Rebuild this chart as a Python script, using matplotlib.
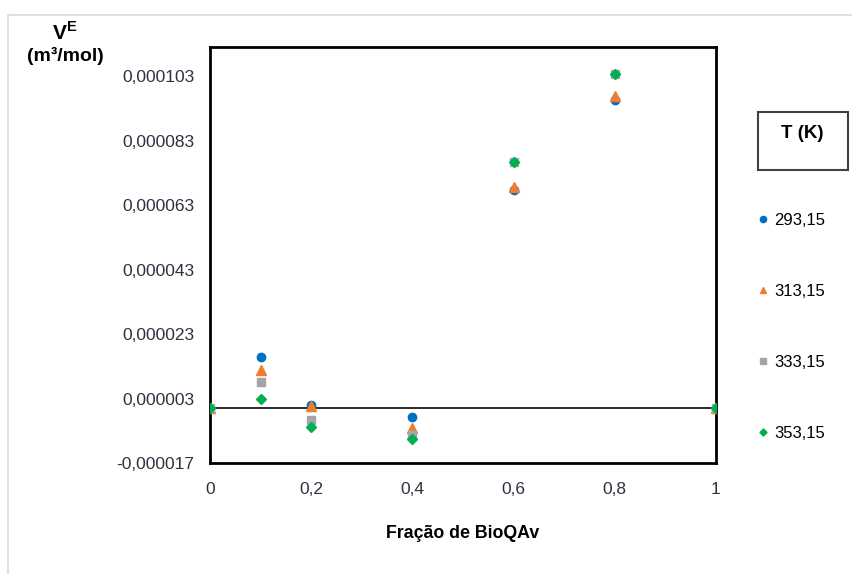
import matplotlib
matplotlib.use('Agg')
import matplotlib.pyplot as plt
from matplotlib.patches import Rectangle
from matplotlib.lines import Line2D
from matplotlib.ticker import FuncFormatter

plt.rcParams['font.family'] = ['Liberation Sans', 'DejaVu Sans']

# fraction of BioQAv
fracao = [0, 0.1, 0.2, 0.4, 0.6, 0.8, 1]
# excess molar volume (m3/mol) per temperature
ve_293 = [0, 0.0000158, 0.0000011, -0.0000028, 0.0000677, 0.0000955, 0]
ve_313 = [0, 0.0000117, 0.0000008, -0.0000060, 0.0000687, 0.0000969, 0]
ve_333 = [0, 0.0000080, -0.0000038, -0.0000082, 0.0000762, 0.0001035, 0]
ve_353 = [0, 0.0000030, -0.0000059, -0.0000097, 0.0000762, 0.0001035, 0]
temps = ['293,15', '313,15', '333,15', '353,15']
yticks = [-0.000017, 0.000003, 0.000023, 0.000043, 0.000063, 0.000083, 0.000103]
xticks = [0, 0.2, 0.4, 0.6, 0.8, 1]

W, H = 853, 574
fig = plt.figure(figsize=(W / 100, H / 100), dpi=100)
# light frame on the left and top only
fig.lines.append(Line2D([8/W, 8/W, 1], [0, 1 - 15/H, 1 - 15/H], transform=fig.transFigure,
                        color='#d9d9d9', lw=1.2))
ax = fig.add_axes([210/W, 111/H, 506/W, 416/H])

ax.axhline(0, color='#1a1a1a', lw=1.3, zorder=1)
ax.plot(fracao, ve_293, 'o', color='#0070C0', ms=6, label=temps[0], zorder=3)
ax.plot(fracao, ve_313, '^', color='#ED7D31', ms=6.5, label=temps[1], zorder=3)
ax.plot(fracao, ve_333, 's', color='#A5A5A5', ms=6, label=temps[2], zorder=3)
ax.plot(fracao, ve_353, 'D', color='#00B050', ms=4.8, label=temps[3], zorder=3)

ax.set_xlim(0, 1)
ax.set_ylim(-0.000017, 0.000112)
ax.set_yticks(yticks)
ax.set_xticks(xticks)
ax.yaxis.set_major_formatter(FuncFormatter(lambda v, p: f"{v:.6f}".replace('.', ',')))
ax.xaxis.set_major_formatter(FuncFormatter(
    lambda v, p: str(int(round(v))) if v in (0, 1) else f"{v:.1f}".replace('.', ',')))
ax.tick_params(axis='both', length=0, labelsize=12.5, colors='#303040')
ax.tick_params(axis='y', pad=11)
ax.tick_params(axis='x', pad=14)
for s in ax.spines.values():
    s.set_linewidth(2)
    s.set_color('black')

ax.set_xlabel('Fração de BioQAv', fontsize=12.8, fontweight='bold', labelpad=20)
fig.text(65/W, 1 - 33/H, 'V$^{\\mathregular{E}}$', ha='center', va='center',
         fontsize=15, fontweight='bold')
fig.text(65/W, 1 - 56/H, '(m³/mol)', ha='center', va='center',
         fontsize=14, fontweight='bold')

# legend title box
fig.patches.append(Rectangle((758/W, 1 - 170/H), 90/W, 58/H, transform=fig.transFigure,
                             fill=False, ec='#404040', lw=1.5))
fig.text(802/W, 1 - 133/H, 'T (K)', ha='center', va='center', fontsize=13.5,
         fontweight='bold')
leg = ax.legend(loc='upper left', bbox_to_anchor=(742/W, 1 - 198/H),
                bbox_transform=fig.transFigure, frameon=False, fontsize=12,
                labelspacing=3.35, handlelength=0.7, handletextpad=0.35,
                markerscale=0.75)

fig.savefig('out.png', dpi=100)
